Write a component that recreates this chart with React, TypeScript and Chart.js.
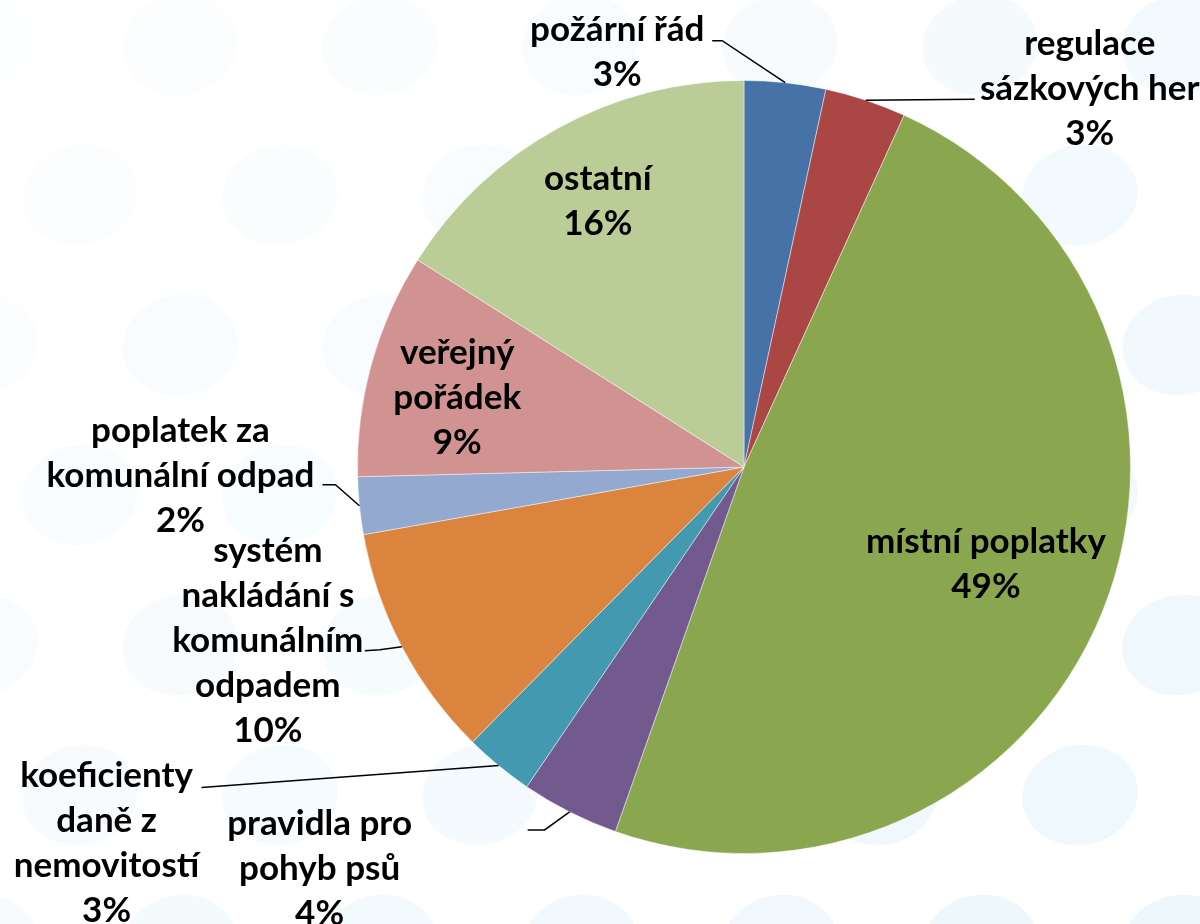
import React, { useEffect, useRef } from "react";
import { Chart, registerables } from "chart.js";

Chart.register(...registerables);

// ---- data ----
const categories: string[][] = [
  ["požární řád"],
  ["regulace", "sázkových her"],
  ["místní poplatky"],
  ["pravidla pro", "pohyb psů"],
  ["koeficienty", "daně z", "nemovitostí"],
  ["systém", "nakládání s", "komunálním", "odpadem"],
  ["poplatek za", "komunální odpad"],
  ["veřejný", "pořádek"],
  ["ostatní"],
];
const shares: number[] = [3.4, 3.4, 48.6, 4.1, 2.9, 9.8, 2.4, 9.4, 16.0];
const percentLabels: string[] = ["3%", "3%", "49%", "4%", "3%", "10%", "2%", "9%", "16%"];
const sliceColors: string[] = [
  "#4672A8",
  "#AA4744",
  "#8AA64F",
  "#725A8F",
  "#4399B0",
  "#DB843D",
  "#93A9D0",
  "#D19392",
  "#BACD97",
];

// label placement (inside: radial fraction; outside: offsets from arc edge midpoint)
type Place =
  | { kind: "in"; r: number; dy: number }
  | { kind: "out"; tx: number; ty: number; ex: number; ey: number; fx: number; fy: number };
const placements: Place[] = [
  { kind: "out", tx: -168, ty: -30, ex: -63, ey: -42, fx: -73, fy: -42 },
  { kind: "out", tx: 224, ty: -11, ex: 0, ey: 0, fx: 109, fy: -1 },
  { kind: "in", r: 0.675, dy: 0 },
  { kind: "out", tx: -250, ty: 57, ex: -25, ey: 18, fx: -42, fy: 18 },
  { kind: "out", tx: -392, ty: 78, ex: 0, ey: 0, fx: -297, fy: 22 },
  { kind: "out", tx: -134, ty: -6, ex: -22, ey: 3, fx: -37, fy: 4 },
  { kind: "out", tx: -179, ty: -30, ex: -24, ey: -21, fx: -37, fy: -21 },
  { kind: "in", r: 0.77, dy: 10 },
  { kind: "in", r: 0.785, dy: 0 },
];

const FONT = "bold 35px Lato, 'Open Sans', sans-serif";
const LINE_H = 45;

const backgroundPlugin = {
  id: "bgDots",
  beforeDraw(chart: any) {
    const { ctx, width, height } = chart;
    ctx.save();
    ctx.fillStyle = "#ffffff";
    ctx.fillRect(0, 0, width, height);
    const sx = 200;
    const sy = 150;
    let row = 0;
    for (let y = 45; y < height + 80; y += sy, row++) {
      const off = row % 2 ? sx / 2 : 0;
      for (let x = 180 + off - sx * 2; x < width + 80; x += sx) {
        const a = 0.05 + 0.5 * ((x / width) * 0.6 + (y / height) * 0.4);
        ctx.fillStyle = `rgba(222,240,250,${Math.min(a, 0.7).toFixed(3)})`;
        ctx.beginPath();
        ctx.ellipse(x, y, 58, 50, -0.2, 0, Math.PI * 2);
        ctx.fill();
      }
    }
    ctx.restore();
  },
};

const labelPlugin = {
  id: "sliceLabels",
  afterDatasetsDraw(chart: any) {
    const { ctx } = chart;
    const meta = chart.getDatasetMeta(0);
    ctx.save();
    ctx.font = FONT;
    ctx.fillStyle = "#000";
    ctx.textAlign = "center";
    ctx.textBaseline = "middle";
    meta.data.forEach((arc: any, i: number) => {
      const { x, y, startAngle, endAngle, outerRadius } = arc.getProps(
        ["x", "y", "startAngle", "endAngle", "outerRadius"],
        true
      );
      const mid = (startAngle + endAngle) / 2;
      const p = placements[i];
      const lines = [...categories[i], percentLabels[i]];
      let cx: number, cy: number;
      if (p.kind === "in") {
        cx = x + Math.cos(mid) * outerRadius * p.r;
        cy = y + Math.sin(mid) * outerRadius * p.r + p.dy;
      } else {
        const ax = x + Math.cos(mid) * outerRadius;
        const ay = y + Math.sin(mid) * outerRadius;
        cx = ax + p.tx;
        cy = ay + p.ty;
        ctx.beginPath();
        ctx.strokeStyle = "#000";
        ctx.lineWidth = 1.5;
        ctx.moveTo(ax, ay);
        ctx.lineTo(ax + p.ex, ay + p.ey);
        ctx.lineTo(ax + p.fx, ay + p.fy);
        ctx.stroke();
      }
      lines.forEach((t, k) => {
        ctx.fillText(t, cx, cy + (k - (lines.length - 1) / 2) * LINE_H);
      });
    });
    ctx.restore();
  },
};

export default function App() {
  const ref = useRef<HTMLCanvasElement | null>(null);
  useEffect(() => {
    if (!ref.current) return;
    const chart = new Chart(ref.current, {
      type: "pie",
      data: {
        labels: categories.map((c) => c.join(" ")),
        datasets: [
          {
            data: shares,
            backgroundColor: sliceColors,
            borderColor: "rgba(255,255,255,0.45)",
            borderWidth: 1,
          },
        ],
      },
      options: {
        animation: false,
        responsive: false,
        maintainAspectRatio: false,
        layout: { padding: { top: 80, bottom: 70, left: 357, right: 69 } },
        plugins: {
          legend: { display: false },
          tooltip: { enabled: false },
        },
      },
      plugins: [backgroundPlugin, labelPlugin],
    });
    return () => chart.destroy();
  }, []);
  return (
    <div style={{ position: "fixed", left: 0, top: 0, width: 1200, height: 924 }}>
      <canvas ref={ref} width={1200} height={924} />
    </div>
  );
}
